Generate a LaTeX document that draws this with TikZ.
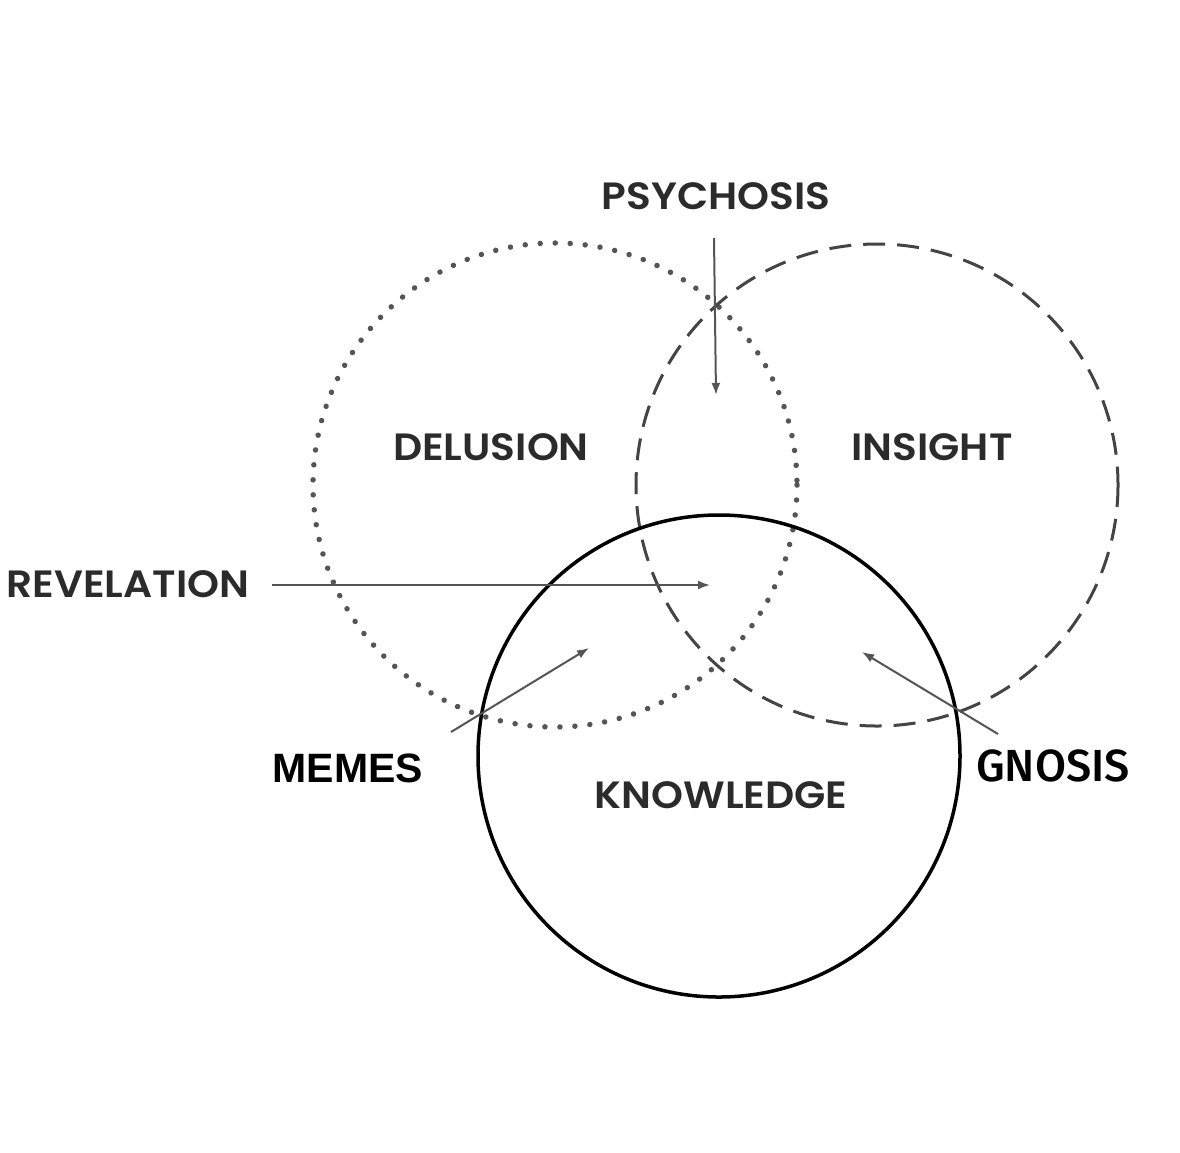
\documentclass[tikz,border=0pt]{standalone}
\usepackage{fontspec}
\usepackage{graphicx}
\usetikzlibrary{arrows.meta}
\newfontfamily\labfont{Poppins}[UprightFont=* SemiBold]
\newfontfamily\memefont{Liberation Sans}[UprightFont=* Bold]
\newfontfamily\gnfont{Fira Sans}[UprightFont=* Medium]
\definecolor{txt}{HTML}{2B2B2B}
\definecolor{arr}{HTML}{555555}
\definecolor{dsh}{HTML}{444444}
\definecolor{dot}{HTML}{555555}
\newcommand{\widelab}[1]{\scalebox{1.07}[1]{#1}}
\begin{document}
\begin{tikzpicture}[x=1pt,y=-1pt,
  lab/.style={text=txt,font=\labfont\fontsize{38}{38}\selectfont,inner sep=0pt,anchor=center},
  meme/.style={text=black,inner sep=0pt,anchor=center},
  pointer/.style={draw=arr,line width=2pt,-{Latex[length=12pt,width=9pt]}},
  solidring/.style={draw=black,line width=3.5pt},
  dashring/.style={draw=dsh,line width=3pt,dash pattern=on 22pt off 12pt},
  dotring/.style={draw=dot,line width=5.5pt,line cap=round,dash pattern=on 0.01pt off 15pt}]
\useasboundingbox[fill=white] (0,0) rectangle (1180,1152);
% circles
\draw[dotring] (555,485) circle[radius=242];
\draw[dashring] (877,485) circle[radius=241];
\draw[solidring] (719,756) circle[radius=241];
% labels
\node[lab] (psy) at (716,196) {\widelab{PSYCHOSIS}};
\node[lab] (del) at (491,447) {\widelab{DELUSION}};
\node[lab] (ins) at (932,447) {\widelab{INSIGHT}};
\node[lab] (rev) at (128,584) {\widelab{REVELATION}};
\node[lab] (kno) at (721,795) {\widelab{KNOWLEDGE}};
\node[meme,font=\memefont\fontsize{41}{41}\selectfont] (mem) at (348,768) {MEMES};
\node[meme,font=\gnfont\fontsize{45}{45}\selectfont] (gno) at (1053,766) {GNOSIS};
% arrow endpoints
\coordinate (psyS) at (714,238);
\coordinate (psyE) at (716,395);
\coordinate (revS) at (272,585);
\coordinate (revE) at (710,585);
\coordinate (memS) at (451,732);
\coordinate (memE) at (589,648);
\coordinate (gnoS) at (998,734);
\coordinate (gnoE) at (862,652);
\draw[pointer] (psyS) -- (psyE);
\draw[pointer] (revS) -- (revE);
\draw[pointer] (memS) -- (memE);
\draw[pointer] (gnoS) -- (gnoE);
\end{tikzpicture}
\end{document}
